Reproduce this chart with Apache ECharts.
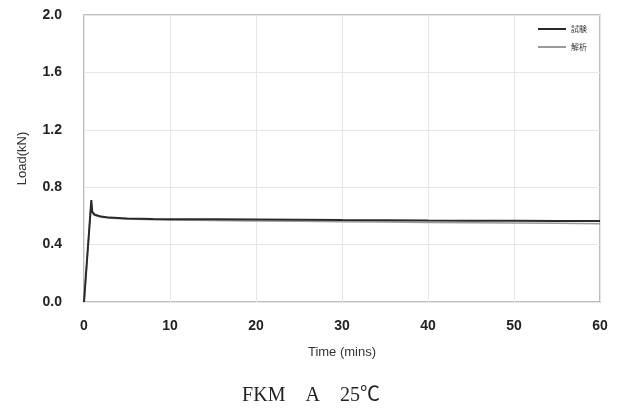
<!DOCTYPE html>
<html>
<head>
<meta charset="utf-8">
<script src="https://cdn.jsdelivr.net/npm/echarts@6/dist/echarts.min.js"></script>
<style>
  html, body { margin: 0; padding: 0; background: #fff; }
  #chart { width: 622px; height: 414px; }
</style>
</head>
<body>
<div id="chart"></div>
<script>
// time in minutes
var testTimes = [0, 0.15, 0.85, 0.95, 1.2, 2, 3, 5, 8, 10, 15, 20, 25, 30, 35, 40, 45, 50, 55, 60];
var testLoads = [0, 0.0, 0.71, 0.63, 0.61, 0.595, 0.588, 0.582, 0.578, 0.577, 0.576, 0.575, 0.573, 0.571, 0.57, 0.568, 0.567, 0.566, 0.565, 0.564];
var calcTimes = [0, 0.15, 0.85, 0.95, 1.2, 2, 3, 5, 8, 10, 15, 20, 25, 30, 35, 40, 45, 50, 55, 60];
var calcLoads = [0, 0.0, 0.70, 0.62, 0.605, 0.59, 0.583, 0.578, 0.574, 0.572, 0.568, 0.565, 0.562, 0.559, 0.557, 0.554, 0.552, 0.55, 0.548, 0.546];
var seriesNames = ['試験', '解析'];
var caption = 'FKM　A　25℃';

var pairs = function (xs, ys) {
    var out = [];
    for (var i = 0; i < xs.length; i++) {
        out.push([xs[i], ys[i]]);
    }
    return out;
};

var chart = echarts.init(document.getElementById('chart'));

chart.setOption({
    animation: false,
    grid: {
        left: 84, right: 22, top: 15, bottom: 112,
        show: true,
        borderColor: '#a8a8a8',
        borderWidth: 1.5
    },
    legend: {
        data: seriesNames,
        orient: 'vertical',
        right: 30,
        top: 20,
        itemWidth: 28,
        itemHeight: 2,
        itemGap: 10,
        icon: 'rect',
        textStyle: { fontSize: 8, color: '#333', fontFamily: 'Noto Sans CJK JP' }
    },
    xAxis: {
        type: 'value',
        min: 0, max: 60, interval: 10,
        name: 'Time (mins)',
        nameLocation: 'middle',
        nameGap: 44,
        nameTextStyle: { fontSize: 13, color: '#333', fontFamily: 'Liberation Sans' },
        axisLine: { show: false },
        axisTick: { show: false },
        axisLabel: { fontSize: 14, color: '#222', fontWeight: 'bold', margin: 17, fontFamily: 'Liberation Sans' },
        splitLine: { lineStyle: { color: '#e6e6e6' } }
    },
    yAxis: {
        type: 'value',
        min: 0, max: 2.0, interval: 0.4,
        name: 'Load(kN)',
        nameLocation: 'middle',
        nameGap: 55,
        nameTextStyle: { fontSize: 13, color: '#333', fontFamily: 'Liberation Sans' },
        axisLine: { show: false },
        axisTick: { show: false },
        axisLabel: {
            fontSize: 14, color: '#222', fontWeight: 'bold', margin: 22, fontFamily: 'Liberation Sans',
            formatter: function (v) { return v.toFixed(1); }
        },
        splitLine: { lineStyle: { color: '#e6e6e6' } }
    },
    series: [
        {
            name: seriesNames[0],
            type: 'line',
            showSymbol: false,
            data: pairs(testTimes, testLoads),
            lineStyle: { color: '#2a2a2a', width: 2 },
            itemStyle: { color: '#2a2a2a' },
            z: 3
        },
        {
            name: seriesNames[1],
            type: 'line',
            showSymbol: false,
            data: pairs(calcTimes, calcLoads),
            lineStyle: { color: '#9a9a9a', width: 1.5 },
            itemStyle: { color: '#9a9a9a' },
            z: 2
        }
    ],
    graphic: [{
        type: 'text',
        left: 'center',
        top: 386,
        style: {
            text: caption,
            fontSize: 20,
            fontFamily: 'Liberation Serif, Noto Sans CJK JP',
            fill: '#222'
        }
    }]
});
</script>
</body>
</html>
